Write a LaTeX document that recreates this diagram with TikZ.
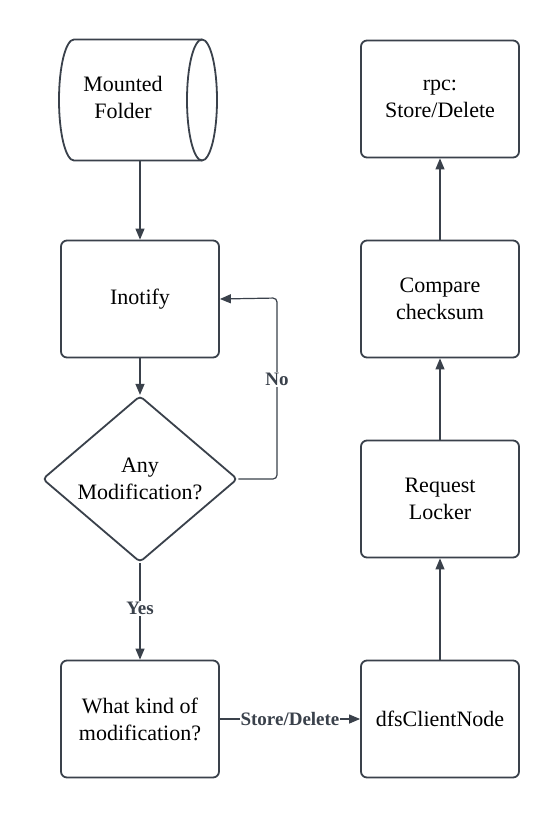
\documentclass[tikz,border=0pt]{standalone}
\usepackage{fontspec}
\setmainfont{Liberation Serif}
\usetikzlibrary{arrows.meta,shapes.geometric}
\definecolor{ink}{HTML}{3A414B}
\begin{document}
\begin{tikzpicture}[x=1pt,y=-1pt,
  txt/.style={align=center,font=\fontsize{22}{27}\selectfont,text=black},
  box/.style={txt,draw=ink,line width=1.8pt,rounded corners=6pt,minimum width=158pt,minimum height=117pt,inner sep=0pt},
  dia/.style={txt,draw=ink,line width=1.8pt,rounded corners=4pt,shape=diamond,minimum width=195pt,minimum height=158pt,inner sep=0pt},
  conn/.style={draw=ink,line width=1.2pt,-{Triangle[length=11pt,width=9pt]}},
  lbl/.style={fill=white,font=\bfseries\fontsize{19}{21}\selectfont,text=ink,inner sep=1pt}]
\useasboundingbox[fill=white] (0,0) rectangle (560,820);
% cylinder
\draw[ink,line width=1.8pt] (202,39.5) -- (74,39.5)
  .. controls (65.7,39.5) and (59,66.6) .. (59,100)
  .. controls (59,133.4) and (65.7,160.5) .. (74,160.5) -- (202,160.5);
\draw[ink,line width=1.8pt] (202,100) ellipse[x radius=15,y radius=60.5];
\node[minimum width=162pt,minimum height=121pt,inner sep=0pt] (cyl) at (140,100) {};
\node[txt] (cyltext) at (123,97) {Mounted\\Folder};
% boxes
\node[box] (ino) at (140,299) {Inotify};
\node[dia] (any) at (140,479) {Any\\Modification?};
\node[box] (what) at (140,719) {What kind of\\modification?};
\node[box] (dfs) at (440,719) {dfsClientNode};
\node[box] (req) at (440,499) {Request\\Locker};
\node[box] (cmp) at (440,299) {Compare\\checksum};
\node[box] (rpc) at (440,99) {rpc:\\Store/Delete};
% connectors
\draw[conn] (cyl.south) -- (ino.north);
\draw[conn] (ino.south) -- (any.north);
\draw[conn,rounded corners=4pt] (any.east) -- (277,479) -- node[lbl,pos=0.55]{No} (277,298) -- (ino.east);
\draw[conn] (any.south) -- node[lbl,pos=0.47]{Yes} (what.north);
\draw[conn] (what.east) -- node[lbl]{Store/Delete} (dfs.west);
\draw[conn] (dfs.north) -- (req.south);
\draw[conn] (req.north) -- (cmp.south);
\draw[conn] (cmp.north) -- (rpc.south);
\end{tikzpicture}
\end{document}
